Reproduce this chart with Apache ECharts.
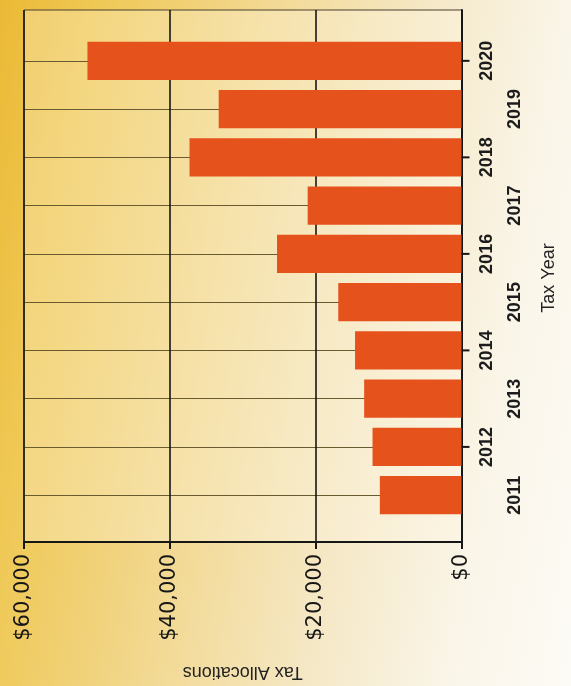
<!DOCTYPE html>
<html>
  <head>
    <title></title>
    <meta charset="UTF-8" />
    <script src="https://cdn.jsdelivr.net/npm/echarts@6/dist/echarts.min.js"></script>
    <style>
      body { margin: 0; }
      #main {
        background: linear-gradient(100deg, #ebb935 0%, #efc855 14%, #f2d890 38%, #f5e8c6 62%, #faf5e8 82%, #fdfbf6 100%);
      }
    </style>
  </head>
  <body>
    <div id="main"></div>
    <script>
      const width = 571;
      const height = 686;
      const main = document.getElementById('main');
      main.style.width = `${width}px`;
      main.style.height = `${height}px`;

      const years = ['2011', '2012', '2013', '2014', '2015', '2016', '2017', '2018', '2019', '2020'];
      const allocations = [11200, 12200, 13350, 14600, 16900, 25300, 21100, 37300, 33300, 51300];
      const valueTicks = [0, 20000, 40000, 60000];

      const ink = '#161616';
      const isEven = (v) => Number(v) % 2 === 0;
      // year ticks sit on the even years only
      const tickYears = years.filter(isEven);

      const myChart = echarts.init(main);
      const option = {
        backgroundColor: 'transparent',
        grid: [
          {
            // bars
            left: 24,
            right: 109.5,
            top: 36.7,
            bottom: 166.7,
            outerBoundsMode: 'none',
          },
          {
            // frame
            show: true,
            left: 24,
            right: 109.5,
            top: 10,
            bottom: 144,
            backgroundColor: 'rgba(255,250,230,0.3)',
            borderColor: '#4a4030',
            borderWidth: 1,
            outerBoundsMode: 'none',
          },
        ],
        xAxis: [
          {
            gridIndex: 0,
            type: 'value',
            inverse: true,
            min: valueTicks[0],
            max: valueTicks[valueTicks.length - 1],
            show: false,
          },
          {
            gridIndex: 1,
            type: 'value',
            inverse: true,
            min: valueTicks[0],
            max: valueTicks[valueTicks.length - 1],
            interval: 20000,
            position: 'bottom',
            axisLine: { onZero: false, lineStyle: { color: ink, width: 2 } },
            axisTick: { show: true, length: 7, lineStyle: { color: ink, width: 2 } },
            axisLabel: {
              rotate: 90,
              margin: 12,
              color: ink,
              fontFamily: 'DejaVu Sans',
              fontSize: 21,
              formatter: (v) => '$' + Number(v).toLocaleString('en-US'),
            },
            splitLine: { show: true, lineStyle: { color: ink, width: 1.6 } },
            name: 'Tax Allocations',
            nameLocation: 'middle',
            nameRotate: 180,
            nameGap: 121,
            nameTextStyle: { color: '#222', fontFamily: 'Liberation Sans', fontSize: 18 },
          },
        ],
        yAxis: [
          {
            gridIndex: 0,
            type: 'category',
            data: years,
            position: 'right',
            axisLine: { show: false, onZero: false },
            axisTick: { show: false },
            axisLabel: {
              interval: 0,
              rotate: 90,
              margin: 12,
              color: '#1c1c1c',
              fontFamily: 'Liberation Sans',
              fontWeight: 'bold',
              fontSize: 18,
              lineHeight: 28,
              formatter: (v) => (isEven(v) ? v + '\n ' : ' \n' + v),
            },
            splitLine: {
              show: true,
              alignWithLabel: true,
              interval: 0,
              lineStyle: { color: '#6a5a30', width: 1 },
            },
            name: 'Tax Year',
            nameLocation: 'middle',
            nameGap: 79,
            nameTextStyle: { color: '#222', fontFamily: 'Liberation Sans', fontSize: 18 },
          },
          {
            gridIndex: 1,
            type: 'value',
            min: 0,
            max: 1,
            position: 'right',
            axisLine: { show: true, onZero: false, lineStyle: { color: ink, width: 2 } },
            axisTick: { show: false },
            axisLabel: { show: false },
            splitLine: { show: false },
          },
        ],
        series: [
          {
            name: 'Tax Allocations',
            type: 'bar',
            xAxisIndex: 0,
            yAxisIndex: 0,
            barWidth: '79%',
            data: allocations,
            itemStyle: { color: '#e5521b' },
            z: 3,
          },
          {
            name: 'year ticks',
            type: 'custom',
            xAxisIndex: 0,
            yAxisIndex: 0,
            silent: true,
            clip: false,
            z: 4,
            data: tickYears.map((y) => [0, y]),
            renderItem: (params, api) => {
              const p = api.coord([api.value(0), api.value(1)]);
              return {
                type: 'line',
                shape: { x1: p[0], y1: p[1], x2: p[0] + 8, y2: p[1] },
                style: { stroke: ink, lineWidth: 2 },
              };
            },
          },
        ],
      };
      myChart.setOption(option);
    </script>
  </body>
</html>
